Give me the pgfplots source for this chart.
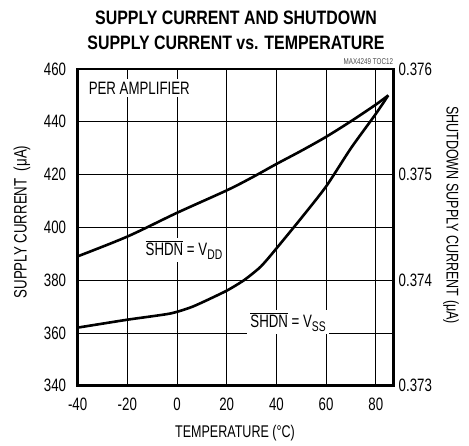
\documentclass[border=0pt]{standalone}
\usepackage{pgfplots}
\pgfplotsset{compat=1.18}
\usepackage{fontspec}
\setmainfont{Liberation Sans}[FakeStretch=0.74]
\newfontfamily\titlefont{Liberation Sans}[FakeStretch=0.82]
\newcommand{\sub}[1]{\raisebox{-0.22em}{\fontsize{14}{14}\selectfont #1}}
\newcommand{\shdn}{\(\overline{\hbox{SHDN}}\)}
\begin{document}
\begin{tikzpicture}[x=1bp,y=1bp]
\useasboundingbox (0,0) rectangle (469,446);
\pgfplotsset{
  common/.style={at={(77.6bp,60.3bp)}, anchor=south west, scale only axis,
    width=315.6bp, height=316.7bp, xmin=-40, xmax=87,
    major tick length=0pt,
    tick label style={font=\fontsize{18}{20}\selectfont},
    /pgf/number format/assume math mode=true,
    clip=false}
}
\begin{axis}[common,
  ymin=340, ymax=460,
  xtick={-40,-20,...,80}, ytick={340,360,...,460},
  grid=major, major grid style={black, line width=0.8bp},
  axis line style={line width=2.6bp},
  yticklabel style={xshift=-8bp},
  xticklabel style={yshift=-9bp},
]
\addplot[black, line width=2.6bp, smooth] coordinates {
 (-40,389) (-20,396.5) (0,405.5) (20,414) (30,418.8) (40,424) (50,429) (60,434.3) (70,440.2) (80,446.5) (85,450)
};
\node[fill=white, inner sep=2.5bp, anchor=west, font=\fontsize{18}{20}\selectfont] at (axis cs:-36.6,452.8) {PER AMPLIFIER};
\node[fill=white, inner sep=3bp, font=\fontsize{18}{20}\selectfont] at (axis cs:2.8,391.4) {\shdn{} = V\sub{DD}};
\node[fill=white, inner sep=3bp, font=\fontsize{18}{20}\selectfont] at (axis cs:44.7,364.1) {\shdn{} = V\sub{SS}};
\node[anchor=base east, inner sep=0pt, font=\fontsize{8.5}{9}\selectfont, text=black!70] at (rel axis cs:1,1) [yshift=4bp] {MAX4249 TOC12};
\end{axis}
\begin{axis}[common,
  hide x axis, axis y line*=right,
  ymin=0.373, ymax=0.376,
  ytick={0.373,0.374,0.375,0.376},
  scaled y ticks=false,
  yticklabel style={/pgf/number format/.cd, fixed, fixed zerofill, precision=3, /tikz/.cd, xshift=2bp},
  y axis line style={line width=2.6bp},
]
\addplot[black, line width=2.6bp, smooth, tension=0.4] coordinates {
 (-40,0.37355) (-20,0.373625) (-3,0.3736825) (5,0.3737375) (10,0.3737875) (20,0.3739) (27,0.374) (33,0.3741125) (36,0.3741875) (40,0.3743) (50,0.3745875) (60,0.3748875) (70,0.37525) (80,0.375575) (85,0.37575)
};
\end{axis}
\node[font=\titlefont\bfseries\fontsize{19.5}{22}\selectfont] at (236,428) {SUPPLY CURRENT AND SHUTDOWN};
\node[font=\titlefont\bfseries\fontsize{19.5}{22}\selectfont] at (236,403) {SUPPLY CURRENT vs. TEMPERATURE};
\node[font=\fontsize{17}{20}\selectfont] at (235,13) {TEMPERATURE (°C)};
\node[rotate=90, font=\fontsize{18}{20}\selectfont] at (22,224) {SUPPLY CURRENT\ \ (μA)};
\node[rotate=-90, font=\fontsize{17}{20}\selectfont] at (451,231) {SHUTDOWN SUPPLY CURRENT (μA)};
\end{tikzpicture}
\end{document}
